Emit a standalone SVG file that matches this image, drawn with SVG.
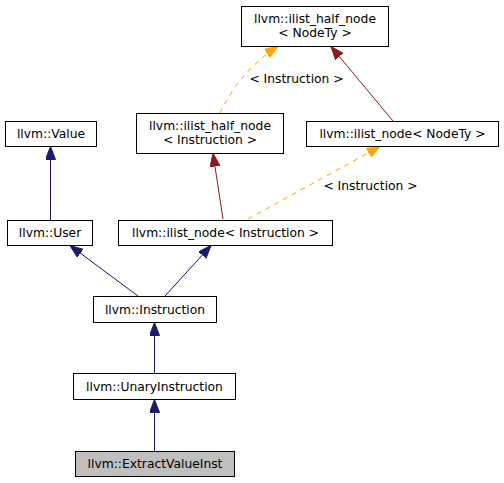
<svg xmlns="http://www.w3.org/2000/svg" width="504" height="483" viewBox="0 0 504 483">
<style>
.box{fill:#ffffff;stroke:#000000;stroke-width:1}
.sel{fill:#bfbfbf;stroke:#000000;stroke-width:1}
text{font-family:"DejaVu Sans","Liberation Sans",sans-serif;font-size:12.3px;fill:#000000;text-anchor:middle}
.navy{fill:none;stroke:#191970;stroke-width:1}
.red{fill:none;stroke:#8b1a1a;stroke-width:1}
.orange{fill:none;stroke:#ffa500;stroke-width:1;stroke-dasharray:5,5}
</style>
<defs>
<marker id="aN" markerUnits="userSpaceOnUse" markerWidth="14" markerHeight="12" refX="13" refY="5" orient="auto"><path d="M0,0 L13,5 L0,10 Z" fill="#191970" stroke="#191970"/></marker>
<marker id="aR" markerUnits="userSpaceOnUse" markerWidth="14" markerHeight="12" refX="13" refY="5" orient="auto"><path d="M0,0 L13,5 L0,10 Z" fill="#8b1a1a" stroke="#8b1a1a"/></marker>
<marker id="aO" markerUnits="userSpaceOnUse" markerWidth="14" markerHeight="12" refX="13" refY="5" orient="auto"><path d="M0,0 L13,5 L0,10 Z" fill="#ffa500" stroke="#ffa500"/></marker>
</defs>
<rect width="504" height="483" fill="#ffffff"/>
<g id="connectors">
<path class="navy" d="M50.5,220 L50.5,146.5" marker-end="url(#aN)"/>
<path class="navy" d="M138,296 L70,245.5" marker-end="url(#aN)"/>
<path class="navy" d="M165,296 L211,245.5" marker-end="url(#aN)"/>
<path class="navy" d="M154.5,373 L154.5,322.5" marker-end="url(#aN)"/>
<path class="navy" d="M154.5,451 L154.5,399.5" marker-end="url(#aN)"/>
<path class="red" d="M223,219 L213,153.5" marker-end="url(#aR)"/>
<path class="red" d="M393,121 L331,46.5" marker-end="url(#aR)"/>
<path class="orange" d="M220,113 C232,88 250,64 278,46.5" marker-end="url(#aO)"/>
<path class="orange" d="M248,219 L380,146.5" marker-end="url(#aO)"/>
<text x="296.5" y="83">&lt; Instruction &gt;</text>
<text x="370.5" y="190">&lt; Instruction &gt;</text>
</g>
<g id="ilist_half_node_NodeTy">
<rect class="box" x="241.5" y="6.5" width="147" height="40"/>
<text x="315" y="23">llvm::ilist_half_node</text>
<text x="315" y="37">&lt; NodeTy &gt;</text>
</g>
<g id="Value">
<rect class="box" x="5.5" y="121.5" width="91" height="25"/>
<text x="51" y="138">llvm::Value</text>
</g>
<g id="ilist_half_node_Instruction">
<rect class="box" x="136.5" y="113.5" width="147" height="40"/>
<text x="210" y="130">llvm::ilist_half_node</text>
<text x="210" y="144">&lt; Instruction &gt;</text>
</g>
<g id="ilist_node_NodeTy">
<rect class="box" x="306.5" y="121.5" width="192" height="25"/>
<text x="402.5" y="138">llvm::ilist_node&lt; NodeTy &gt;</text>
</g>
<g id="User">
<rect class="box" x="7.5" y="220.5" width="85" height="25"/>
<text x="50" y="237">llvm::User</text>
</g>
<g id="ilist_node_Instruction">
<rect class="box" x="118.5" y="220.5" width="214" height="25"/>
<text x="225.5" y="237">llvm::ilist_node&lt; Instruction &gt;</text>
</g>
<g id="Instruction">
<rect class="box" x="93.5" y="296.5" width="123" height="26"/>
<text x="155" y="314">llvm::Instruction</text>
</g>
<g id="UnaryInstruction">
<rect class="box" x="73.5" y="373.5" width="162" height="26"/>
<text x="154.5" y="391">llvm::UnaryInstruction</text>
</g>
<g id="ExtractValueInst">
<rect class="sel" x="75.5" y="451.5" width="159" height="25"/>
<text x="155" y="468">llvm::ExtractValueInst</text>
</g>
</svg>
